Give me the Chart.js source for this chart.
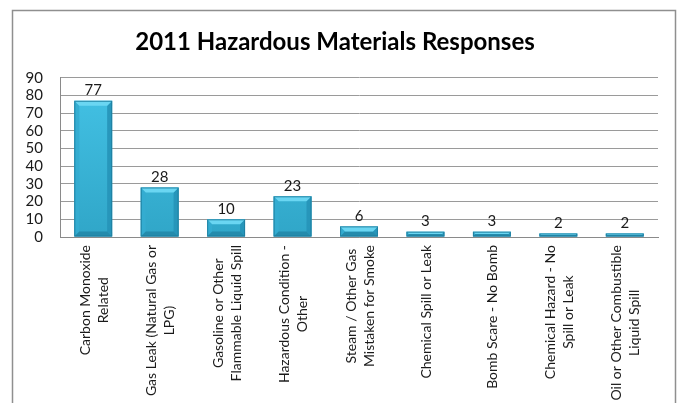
<!DOCTYPE html>
<html>
<head>
<meta charset="utf-8">
<script src="https://cdn.jsdelivr.net/npm/chart.js@4.4.1/dist/chart.umd.min.js"></script>
<style>
  html, body { margin: 0; padding: 0; background: #ffffff; }
  #wrap { width: 678px; height: 403px; position: relative; }
</style>
</head>
<body>
<div id="wrap"><canvas id="chart" width="678" height="403"></canvas></div>
<script>
// Response categories (each entry is a list of label lines)
const categories = [
  ["Carbon Monoxide", "Related"],
  ["Gas Leak (Natural Gas or", "LPG)"],
  ["Gasoline or Other", "Flammable Liquid Spill"],
  ["Hazardous Condition -", "Other"],
  ["Steam / Other Gas", "Mistaken for Smoke"],
  ["Chemical Spill or Leak"],
  ["Bomb Scare - No Bomb"],
  ["Chemical Hazard - No", "Spill or Leak"],
  ["Oil or Other Combustible", "Liquid Spill"]
];

// Number of responses per category
const responses = [77, 28, 10, 23, 6, 3, 3, 2, 2];

// Value axis settings
const yMin = 0;
const yMax = 90;
const yStep = 10;

const chartTitle = "2011 Hazardous Materials Responses";

const FONT = "Lato, 'Open Sans', sans-serif";

// White page with a thin grey frame around the chart
const framePlugin = {
  id: 'frame',
  beforeDraw(chart) {
    const ctx = chart.ctx;
    ctx.save();
    ctx.fillStyle = '#ffffff';
    ctx.fillRect(0, 0, chart.width, chart.height);
    ctx.strokeStyle = '#8f8f8f';
    ctx.lineWidth = 1.5;
    ctx.strokeRect(12.5, 10.5, 663, 400);
    ctx.restore();
  }
};

// Bevelled look on top of each bar, using the bar element geometry
const bevelPlugin = {
  id: 'bevel',
  afterDatasetsDraw(chart) {
    const ctx = chart.ctx;
    const meta = chart.getDatasetMeta(0);
    ctx.save();
    meta.data.forEach((bar) => {
      const L = bar.x - bar.width / 2;
      const R = bar.x + bar.width / 2;
      const T = Math.min(bar.y, bar.base);
      const B = Math.max(bar.y, bar.base);
      const h = B - T;
      const b = Math.min(5, h / 2);
      const poly = (pts, color) => {
        ctx.beginPath();
        ctx.moveTo(pts[0][0], pts[0][1]);
        for (let i = 1; i < pts.length; i++) ctx.lineTo(pts[i][0], pts[i][1]);
        ctx.closePath();
        ctx.fillStyle = color;
        ctx.fill();
      };
      poly([[L, T], [L + b, T + b], [L + b, B - b], [L, B]], 'rgba(52,172,208,0.9)');
      poly([[R, T], [R - b, T + b], [R - b, B - b], [R, B]], 'rgba(38,148,184,0.9)');
      poly([[L, B], [L + b, B - b], [R - b, B - b], [R, B]], 'rgba(36,136,168,0.9)');
      poly([[L, T], [R, T], [R - b, T + b], [L + b, T + b]], '#6ad6f2');
      ctx.strokeStyle = 'rgba(30,125,158,0.9)';
      ctx.lineWidth = 1;
      ctx.strokeRect(L + 0.5, T + 0.5, R - L - 1, h - 1);
    });
    ctx.restore();
  }
};

// Value labels above the bars
const valueLabelPlugin = {
  id: 'valueLabels',
  afterDatasetsDraw(chart) {
    const ctx = chart.ctx;
    const meta = chart.getDatasetMeta(0);
    const values = chart.data.datasets[0].data;
    ctx.save();
    ctx.font = '15px ' + FONT;
    ctx.fillStyle = '#1a1a1a';
    ctx.textAlign = 'center';
    ctx.textBaseline = 'bottom';
    meta.data.forEach((bar, i) => {
      ctx.fillText(String(values[i]), bar.x, bar.y - 3);
    });
    ctx.restore();
  }
};

// Vertical category labels: lines centred on each other, block placed under the axis
const categoryLabelPlugin = {
  id: 'categoryLabels',
  afterDraw(chart) {
    const ctx = chart.ctx;
    const xScale = chart.scales.x;
    const top = xScale.top + 8;
    const lineGap = 18;
    ctx.save();
    ctx.font = '14px ' + FONT;
    ctx.fillStyle = '#1a1a1a';
    ctx.textAlign = 'center';
    ctx.textBaseline = 'middle';
    chart.data.labels.forEach((lines, i) => {
      const x = xScale.getPixelForValue(i) + 1;
      const w = Math.max(...lines.map((l) => ctx.measureText(l).width));
      ctx.save();
      ctx.translate(x, top);
      ctx.rotate(-Math.PI / 2);
      lines.forEach((line, j) => {
        const off = (j - (lines.length - 1) / 2) * lineGap;
        ctx.fillText(line, -w / 2, off);
      });
      ctx.restore();
    });
    ctx.restore();
  }
};

const ctx = document.getElementById('chart').getContext('2d');

function barFill(context) {
  const chart = context.chart;
  const area = chart.chartArea;
  if (!area) return '#3cb8dc';
  const g = chart.ctx.createLinearGradient(0, area.top, 0, area.bottom);
  g.addColorStop(0, '#44c3e6');
  g.addColorStop(1, '#30a6c8');
  return g;
}

new Chart(ctx, {
  type: 'bar',
  data: {
    labels: categories,
    datasets: [{
      data: responses,
      backgroundColor: barFill,
      borderWidth: 0,
      barPercentage: 0.57,
      categoryPercentage: 1.0
    }]
  },
  options: {
    responsive: false,
    animation: false,
    events: [],
    layout: { padding: { left: 12, right: 20, top: 0, bottom: 0 } },
    plugins: {
      legend: { display: false },
      tooltip: { enabled: false },
      title: {
        display: true,
        text: chartTitle,
        color: '#000000',
        font: { family: FONT, size: 24, weight: 'bold', lineHeight: 1.2 },
        padding: { top: 28, bottom: 21 }
      }
    },
    scales: {
      x: {
        grid: { display: false, drawTicks: false },
        border: { display: true, color: '#8a8a8a', width: 1 },
        ticks: { display: false },
        afterFit(scale) { scale.height = 166; }
      },
      y: {
        min: yMin,
        max: yMax,
        grid: { color: '#9a9a9a', lineWidth: 1, drawTicks: false },
        border: { display: true, color: '#8a8a8a', width: 1 },
        ticks: {
          stepSize: yStep,
          autoSkip: false,
          padding: 17,
          color: '#1a1a1a',
          font: { family: FONT, size: 15 }
        },
        afterFit(scale) { scale.width = 48; }
      }
    }
  },
  plugins: [framePlugin, bevelPlugin, valueLabelPlugin, categoryLabelPlugin]
});
</script>
</body>
</html>
